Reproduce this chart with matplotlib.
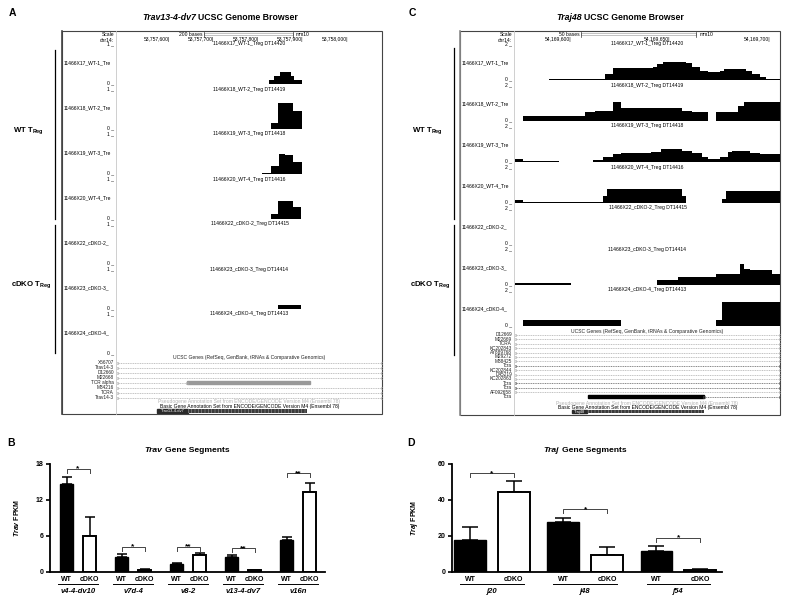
"""UCSC browser tracks for Trav13-4-dv7 / Traj48 and FPKM bar charts."""

import matplotlib
matplotlib.use('Agg')
import matplotlib.pyplot as plt
from matplotlib.patches import Rectangle
import numpy as np

plt.rcParams['font.family'] = ['Liberation Sans', 'DejaVu Sans']
plt.rcParams['mathtext.fontset'] = 'custom'
plt.rcParams['mathtext.rm'] = 'Liberation Sans:bold'
plt.rcParams['mathtext.it'] = 'Liberation Sans:bold:italic'
plt.rcParams['mathtext.bf'] = 'Liberation Sans:bold'
plt.rcParams['hatch.linewidth'] = 0.4

# ---------------- data ----------------
track_ids = ['11466X17_WT-1_Treg DT14420', '11466X18_WT-2_Treg DT14419',
             '11466X19_WT-3_Treg DT14418', '11466X20_WT-4_Treg DT14416',
             '11466X22_cDKO-2_Treg DT14415', '11466X23_cDKO-3_Treg DT14414',
             '11466X24_cDKO-4_Treg DT14413']
track_short = ['11466X17_WT-1_Tre', '11466X18_WT-2_Tre', '11466X19_WT-3_Tre',
               '11466X20_WT-4_Tre', '11466X22_cDKO-2_', '11466X23_cDKO-3_',
               '11466X24_cDKO-4_']

# Trav13-4-dv7 window, chr14, offsets from 53,757,600
a_pos0 = 53757600
a_view = (-119, 476)
a_ticks = [0, 100, 200, 300, 400]
a_scale = (76, 276)
a_edges = [[222, 234, 247, 272, 279, 297],
           [227, 243, 276, 297],
           [207, 227, 245, 258, 276, 297],
           [227, 243, 276, 294],
           [],
           [243, 294],
           []]
a_vals = [[0.1, 0.2, 0.3, 0.2, 0.1],
          [0.15, 0.66, 0.46],
          [0.03, 0.2, 0.5, 0.47, 0.3],
          [0.12, 0.46, 0.29],
          [],
          [0.1],
          []]
a_genes = ['X56707', 'Trav14-3', 'D12660', 'M22668', 'TCR alpha', 'M34216', 'TCRA', 'Trav14-3']
a_gene_spans = [(-119, 476)] * 4 + [(-119, 38)] + [(-119, 476)] * 3
a_gene_block = (4, 38, 315)
a_basic = ('Trav13-4-dv7', -29, 40, 308)

# Traj48 window, chr14, offsets from 54,169,600
c_pos0 = 54169600
c_view = (-28.1, 105)
c_ticks = [0, 50, 100]
c_scale = (5, 63)
c_edges = [[-11, -8, 17, 21, 41, 43, 46, 58, 61, 65, 69, 75, 77, 88, 91, 95, 98, 105],
           [-24, 7, 12, 21, 25, 56, 61, 69, 73, 84, 87, 105],
           [-28, -24, -6, 11, 16, 21, 25, 40, 45, 56, 61, 66, 69, 75, 79, 81, 90, 95, 105],
           [-28, -24, 16, 18, 56, 58, 76, 78, 105],
           [],
           [-28, 0, 43, 54, 73, 85, 87, 90, 101, 105],
           [-24, 25, 73, 76, 105]]
c_vals = [[0.04, 0.08, 0.34, 0.66, 0.74, 0.88, 1.02, 0.94, 0.74, 0.52, 0.44, 0.52, 0.6, 0.52, 0.34, 0.18, 0.08],
          [0.26, 0.5, 0.56, 1.04, 0.74, 0.56, 0.48, 0, 0.52, 0.86, 1.08],
          [0.16, 0.04, 0.02, 0.1, 0.3, 0.44, 0.48, 0.58, 0.7, 0.62, 0.48, 0.3, 0.16, 0.3, 0.58, 0.62, 0.5, 0.44],
          [0.18, 0.04, 0.4, 0.8, 0.4, 0, 0.2, 0.64],
          [],
          [0.12, 0, 0.28, 0.46, 0.6, 1.16, 0.9, 0.84, 0.62],
          [0.34, 0, 0.34, 1.34]]
c_genes = ['D12669', 'M22669', 'TCRA', 'KC202843', 'AY889768', 'M29272', 'M38425', 'Tcra',
           'KC202844', 'D45219', 'KC202863', 'Tcra', 'Tcra', 'AF092658', 'Tcra']
c_gene_spans = [(-28.1, 105)] * 14 + [(67, 105)]
c_gene_block = (14, 8.5, 67)
c_basic = ('Traj48', 0.5, 8, 67)

# FPKM
trav_groups = ['v4-4-dv10', 'v7d-4', 'v8-2', 'v13-4-dv7', 'v16n']
trav_wt = [14.7, 2.5, 1.4, 2.5, 5.3]
trav_wt_err = [1.2, 0.45, 0.15, 0.3, 0.5]
trav_ko = [6.0, 0.4, 2.8, 0.3, 13.3]
trav_ko_err = [3.2, 0.1, 0.3, 0.1, 1.6]
trav_sig = ['*', '*', '**', '**', '**']
trav_sig_y = [17.2, 4.2, 4.2, 4.0, 16.5]

traj_groups = ['j20', 'j48', 'j54']
traj_wt = [18.0, 28.0, 11.5]
traj_wt_err = [7.0, 2.2, 2.7]
traj_ko = [44.4, 9.3, 1.0]
traj_ko_err = [6.3, 4.5, 0.5]
traj_sig = ['*', '*', '*']
traj_sig_y = [55, 35, 19]

# ---------------- figure ----------------
W, H = 800, 604
fig = plt.figure(figsize=(W / 100, H / 100), dpi=100)
ov = fig.add_axes([0, 0, 1, 1])
ov.set_xlim(0, W)
ov.set_ylim(H, 0)
ov.axis('off')
FS = 3.6


def px_axes(x0, y0, x1, y1):
  return fig.add_axes([x0 / W, 1 - y1 / H, (x1 - x0) / W, (y1 - y0) / H])


def rich(x, y, parts, size):
  # bold text with mixed italic / upright pieces, centred on x
  r = fig.canvas.get_renderer()
  ts = [ov.text(0, y, s, fontsize=size, fontweight='bold', fontstyle=st,
                ha='left', va='center') for s, st in parts]
  ws = [t.get_window_extent(r).width for t in ts]
  gap = size * 0.28 * 100 / 72
  x0 = x - (sum(ws) + gap * (len(ts) - 1)) / 2
  for t, w in zip(ts, ws):
    t.set_x(x0)
    x0 += w + gap


def draw_browser(lay, pos0, view, ticks, scale, scale_txt, edges, vals, ymax,
                 genes, spans, block, basic):
  bx0, by0, bx1, by1 = lay['box']
  div = lay['div']
  ov.add_patch(Rectangle((bx0, by0), bx1 - bx0, by1 - by0, fill=False,
                         ec=lay['edge'], lw=0.8))
  ov.plot([bx0, bx0], [by0, by1], color=lay['edge_l'], lw=1.2)
  ov.plot([div, div], [by0, by1], color='#c8c8c8', lw=0.6)
  gx = px_axes(div + 1, by0, bx1, by1)
  gx.set_xlim(view)
  gx.set_ylim(by1, by0)
  gx.axis('off')
  ht = gx.get_yaxis_transform()

  # ruler
  ov.text(div - 2, 34, 'Scale', fontsize=FS, ha='right', va='center')
  ov.text(div - 2, 40, 'chr14:', fontsize=FS, ha='right', va='center')
  for t in ticks:
    gx.text(t, 40, f'{pos0 + t:,}|', fontsize=FS, ha='right', va='center')
  s0, s1 = scale
  gx.add_patch(Rectangle((s0, 33), s1 - s0, 2, fill=False, ec='#aaaaaa', lw=0.5))
  gx.plot([s0, s0], [31.5, 36.5], color='#333333', lw=0.5)
  gx.plot([s1, s1], [31.5, 36.5], color='#333333', lw=0.5)
  gx.annotate(scale_txt, (s0, 34), xytext=(-1, 0), textcoords='offset points',
              fontsize=FS, ha='right', va='center')
  gx.annotate('mm10', (s1, 34), xytext=(2, 0), textcoords='offset points',
              fontsize=FS, ha='left', va='center')

  # signal tracks
  for i, (name, short) in enumerate(zip(track_ids, track_short)):
    hy = lay['h0'] + i * lay['dy']
    base = hy + lay['th']
    ov.text(div - 2, hy, f'{ymax:g} _', fontsize=FS, ha='right', va='center')
    ov.text(div - 2, base - 1, '0 _', fontsize=FS, ha='right', va='center')
    ov.text(bx0 + 1.5, hy + lay['lab'], short, fontsize=FS, ha='left', va='center')
    gx.text(0.5, hy, name, transform=ht, fontsize=FS, ha='center', va='center')
    tax = px_axes(div + 1, hy, bx1, base)
    tax.set_xlim(view)
    tax.set_ylim(0, ymax)
    tax.axis('off')
    if edges[i]:
      tax.stairs(vals[i], edges[i], fill=True, color='black', lw=0)

  # gene annotations
  gx.text(0.5, lay['ucsc'], 'UCSC Genes (RefSeq, GenBank, tRNAs & Comparative Genomics)',
          transform=ht, fontsize=FS, ha='center', va='center', color='#222222')
  for j, g in enumerate(genes):
    y = lay['g0'] + j * lay['gdy']
    c = '#555555' if g == 'Tcra' else '#a8a8a8'
    ov.text(div - 2, y, g, fontsize=FS * 0.95, ha='right', va='center', color='#222222')
    g0, g1 = spans[j]
    gx.plot([g0, g1], [y, y], color=c, lw=0.5, ls=(0, (1.5, 1)))
    gx.plot([g0, g1], [y, y], ls='none', marker='s', ms=1.6, mfc='none', mec=c, mew=0.4)
  row, b0, b1 = block
  y = lay['g0'] + row * lay['gdy']
  gx.add_patch(Rectangle((b0, y - 1.2), b1 - b0, 2.4, color=lay['block']))
  gx.text(0.5, lay['pseudo'], 'Pseudogene Annotation Set from ENCODE/GENCODE Version M4 (Ensembl 78)',
          transform=ht, fontsize=FS, ha='center', va='center', color='#b4b4b4')
  gx.text(0.5, lay['basic_t'], 'Basic Gene Annotation Set from ENCODE/GENCODE Version M4 (Ensembl 78)',
          transform=ht, fontsize=FS, ha='center', va='center', color='black')
  lab, l0, l1, l2 = basic
  yb = lay['basic_y']
  gx.add_patch(Rectangle((l0, yb - 1.8), l1 - l0, 3.6, color='#2a2a2a'))
  gx.text((l0 + l1) / 2, yb, lab, fontsize=FS * 0.8, color='white', ha='center', va='center')
  gx.add_patch(Rectangle((l1, yb - 1.8), l2 - l1, 3.6, fc='#3a3a3a', ec='#9a9a9a',
                         hatch='|||||', lw=0))


lay_a = dict(box=(62, 31, 382, 414), div=116, h0=44, dy=45, th=40, lab=19,
             ucsc=358, g0=362.5, gdy=5, pseudo=402, basic_t=406.5, basic_y=411,
             edge='#444444', edge_l='#444444', block='#999999')
lay_c = dict(box=(460, 31, 780, 415), div=514, h0=44, dy=41, th=36, lab=18.5,
             ucsc=331, g0=335, gdy=4.4, pseudo=403, basic_t=407, basic_y=411.5,
             edge='#444444', edge_l='#8c8c8c', block='black')

draw_browser(lay_a, a_pos0, a_view, a_ticks, a_scale, '200 bases', a_edges, a_vals, 1,
             a_genes, a_gene_spans, a_gene_block, a_basic)
draw_browser(lay_c, c_pos0, c_view, c_ticks, c_scale, '50 bases', c_edges, c_vals, 2,
             c_genes, c_gene_spans, c_gene_block, c_basic)

# panel letters, titles, group brackets
for letter, x, y in (('A', 12, 13), ('C', 412, 13), ('B', 11, 443), ('D', 411, 443)):
  ov.text(x, y, letter, fontsize=7.5, fontweight='bold', ha='center', va='center')
rich(220, 18, [('Trav13-4-dv7', 'italic'), ('UCSC Genome Browser', 'normal')], 6.3)
rich(620, 18, [('Traj48', 'italic'), ('UCSC Genome Browser', 'normal')], 6.3)
rich(187, 451, [('Trav', 'italic'), ('Gene Segments', 'normal')], 6.1)
rich(585, 451, [('Traj', 'italic'), ('Gene Segments', 'normal')], 6.1)

for xl, xt, wt_rng, ko_rng, ko_y in ((55, 13, (50, 219), (225, 353), 285),
                                     (454, 412, (48, 219), (225, 355), 285)):
  ov.plot([xl, xl], wt_rng, color='black', lw=0.9)
  ov.plot([xl, xl], ko_rng, color='black', lw=0.9)
  ov.text(xt, 131, r'WT T$_{\mathregular{Reg}}$', fontsize=5.6, fontweight='bold',
          ha='left', va='center')
  ov.text(xt - 2, ko_y, r'cDKO T$_{\mathregular{Reg}}$', fontsize=5.6, fontweight='bold',
          ha='left', va='center')


def draw_bars(rect, xlim, groups, wt, wt_err, ko, ko_err, sig, sig_y, ymax, yticks,
              ylab, lab_x, off, width, cap, drop, under):
  ax = px_axes(*rect)
  x = np.arange(len(groups))
  ax.bar(x - off, wt, width, color='black', edgecolor='black', linewidth=1.0, zorder=2)
  ax.bar(x + off, ko, width, color='white', edgecolor='black', linewidth=1.4, zorder=2)
  for xs, v, e in ((x - off, wt, wt_err), (x + off, ko, ko_err)):
    ax.errorbar(xs, v, yerr=[np.zeros(len(v)), e], fmt='none', ecolor='black',
                elinewidth=1.1, capsize=cap, capthick=1.1, zorder=1)
  ax.set_xlim(xlim)
  ax.set_ylim(0, ymax)
  ax.set_yticks(yticks)
  ax.set_xticks([])
  for s in ('top', 'right'):
    ax.spines[s].set_visible(False)
  for s in ('left', 'bottom'):
    ax.spines[s].set_linewidth(1.3)
  ax.tick_params(axis='y', direction='out', length=3, width=1.2, labelsize=5, pad=1.5)
  for t in ax.get_yticklabels():
    t.set_fontweight('bold')
  ax.set_ylabel(ylab, fontsize=5, fontweight='bold')
  ax.yaxis.set_label_coords(lab_x, 0.5)

  # significance brackets
  for i, (s, y) in enumerate(zip(sig, sig_y)):
    ax.plot([i - off, i - off, i + off, i + off], [y - drop, y, y, y - drop],
            color='#444444', lw=0.7, clip_on=False)
    ax.annotate(s, (i, y), xytext=(0, -1.3), textcoords='offset points',
                fontsize=6, fontweight='bold', ha='center', va='baseline')

  # WT / cDKO labels and group names under the axis
  tr = ax.get_xaxis_transform()
  for i, g in enumerate(groups):
    ax.text(i - off, -0.065, 'WT', transform=tr, fontsize=5, fontweight='bold',
            ha='center', va='center')
    ax.text(i + off, -0.065, 'cDKO', transform=tr, fontsize=5, fontweight='bold',
            ha='center', va='center')
    ax.plot([i - under, i + under], [-0.112, -0.112], transform=tr, color='black',
            lw=0.7, clip_on=False)
    ax.text(i, -0.18, g, transform=tr, fontsize=5.5, fontweight='bold',
            fontstyle='italic', ha='center', va='center')
  return ax


draw_bars((50, 464, 325, 572), (-0.51, 4.49), trav_groups, trav_wt, trav_wt_err,
          trav_ko, trav_ko_err, trav_sig, trav_sig_y, 18, [0, 6, 12, 18],
          r'$\mathit{Trav}$ FPKM', -0.105, 0.21, 0.25, 3.3, 0.65, 0.36)
draw_bars((452, 464, 722, 572), (-0.43, 2.47), traj_groups, traj_wt, traj_wt_err,
          traj_ko, traj_ko_err, traj_sig, traj_sig_y, 60, [0, 20, 40, 60],
          r'$\mathit{Traj}$ FPKM', -0.118, 0.235, 0.34, 5.5, 2.2, 0.34)

fig.savefig('out.png', dpi=100)
